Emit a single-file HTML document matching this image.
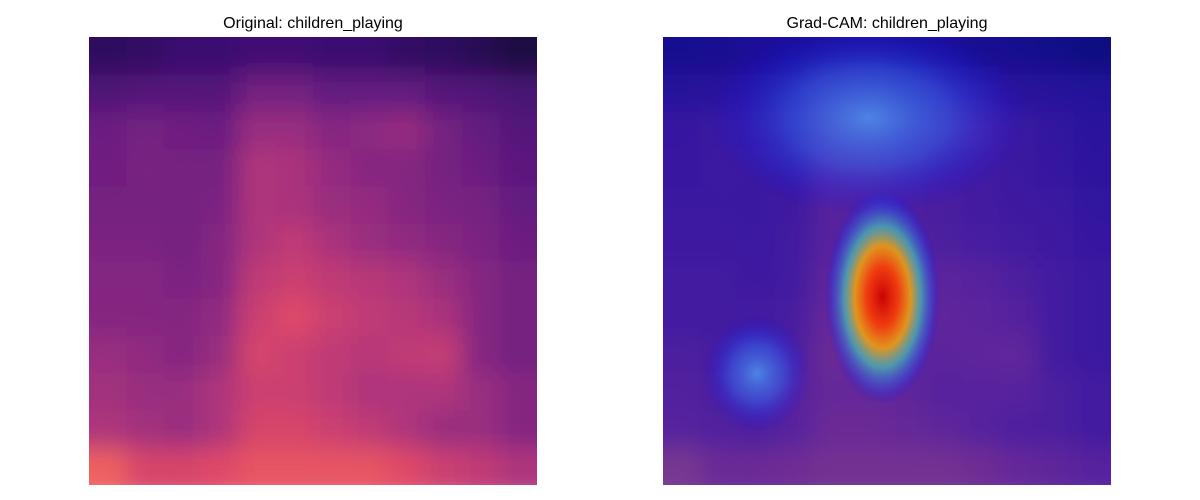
<!DOCTYPE html>
<html><head><meta charset="utf-8"><style>
html,body{margin:0;padding:0;background:#fff;width:1200px;height:500px;overflow:hidden}
svg{display:block}
text{font-family:"Liberation Sans","DejaVu Sans",sans-serif;font-size:16px;fill:#000}
</style></head><body>
<svg id="fig" width="1200" height="500" viewBox="0 0 1200 500">
<defs>
<filter id="blur" x="-10%" y="-10%" width="120%" height="120%"><feGaussianBlur stdDeviation="12"/></filter>
<clipPath id="clipL"><rect x="89" y="37" width="448" height="448"/></clipPath>
<clipPath id="clipR"><rect x="663" y="37" width="448" height="448"/></clipPath>
<radialGradient id="jetHot">
<stop offset="0" stop-color="#d00000" stop-opacity="0.95"/>
<stop offset="0.28" stop-color="#ff4000" stop-opacity="0.9"/>
<stop offset="0.48" stop-color="#ffb000" stop-opacity="0.8"/>
<stop offset="0.66" stop-color="#40e0c0" stop-opacity="0.6"/>
<stop offset="0.85" stop-color="#2060ff" stop-opacity="0.35"/>
<stop offset="1" stop-color="#0000ff" stop-opacity="0"/>
</radialGradient>
<radialGradient id="jetCool">
<stop offset="0" stop-color="#50b0ff" stop-opacity="0.7"/>
<stop offset="0.5" stop-color="#3070ff" stop-opacity="0.45"/>
<stop offset="1" stop-color="#0000ff" stop-opacity="0"/>
</radialGradient>
</defs>
<text x="313" y="28" text-anchor="middle">Original: children_playing</text>
<text x="887" y="28" text-anchor="middle">Grad-CAM: children_playing</text>
<g clip-path="url(#clipL)"><g id="specL" filter="url(#blur)"></g></g>
<g clip-path="url(#clipR)"><g id="specR" filter="url(#blur)"></g><rect x="663" y="37" width="448" height="448" fill="#0010c0" opacity="0.5"/><g id="cam"></g></g>
</svg>
<script>
// spectrogram intensity grid (rows top->bottom, 12x12), 0..1 magma
const specRows = [
[0.17,0.18,0.2,0.2,0.22,0.22,0.2,0.2,0.18,0.17,0.15,0.12],
[0.25,0.26,0.26,0.26,0.34,0.34,0.3,0.3,0.3,0.26,0.25,0.23],
[0.32,0.34,0.33,0.32,0.43,0.43,0.38,0.4,0.42,0.34,0.3,0.26],
[0.33,0.35,0.34,0.34,0.48,0.47,0.42,0.38,0.38,0.34,0.32,0.28],
[0.34,0.34,0.34,0.36,0.48,0.47,0.43,0.42,0.38,0.36,0.34,0.3],
[0.36,0.36,0.34,0.38,0.48,0.52,0.47,0.43,0.41,0.38,0.36,0.32],
[0.38,0.38,0.36,0.38,0.52,0.55,0.52,0.5,0.48,0.43,0.38,0.34],
[0.38,0.38,0.38,0.41,0.55,0.6,0.55,0.52,0.5,0.47,0.38,0.34],
[0.43,0.41,0.38,0.43,0.58,0.55,0.52,0.5,0.52,0.53,0.38,0.34],
[0.45,0.43,0.43,0.48,0.55,0.55,0.52,0.48,0.48,0.48,0.43,0.38],
[0.48,0.45,0.43,0.48,0.58,0.58,0.55,0.52,0.48,0.43,0.43,0.38],
[0.66,0.58,0.58,0.6,0.63,0.63,0.63,0.63,0.6,0.55,0.52,0.48]
];
// Grad-CAM blobs: centre (fraction of width/height), radii (fraction), kind
const camCx = [0.49, 0.21, 0.46];
const camCy = [0.58, 0.75, 0.18];
const camRx = [0.13, 0.12, 0.36];
const camRy = [0.24, 0.13, 0.22];
const camKind = ['jetHot','jetCool','jetCool'];

const magma=[[0,0,4],[20,14,54],[59,15,112],[100,26,128],[140,41,129],[183,55,121],[222,73,104],[247,112,92],[254,159,109],[254,207,146],[252,253,191]];
function cmap(v){v=Math.max(0,Math.min(1,v))*10;const i=Math.min(9,Math.floor(v)),t=v-i,a=magma[i],b=magma[i+1];
return 'rgb('+a.map((c,k)=>Math.round(c+(b[k]-c)*t)).join(',')+')';}
const NS='http://www.w3.org/2000/svg';
function drawSpec(gid,x0,y0,size){
 const g=document.getElementById(gid);const n=specRows.length,m=specRows[0].length;
 const ch=size/n,cw=size/m;
 specRows.forEach((row,r)=>row.forEach((v,c)=>{
  const rc=document.createElementNS(NS,'rect');
  let x=x0+c*cw,y=y0+r*ch,w=cw+1,h=ch+1;
  if(c===0){x-=30;w+=30;} if(c===m-1){w+=30;}
  if(r===0){y-=30;h+=30;} if(r===n-1){h+=14;}
  rc.setAttribute('x',x);rc.setAttribute('y',y);rc.setAttribute('width',w);rc.setAttribute('height',h);
  rc.setAttribute('fill',cmap(v));
  
  
  g.appendChild(rc);
 }));
}
drawSpec('specL',89,37,448);
drawSpec('specR',663,37,448);
const cg=document.getElementById('cam');
camCx.forEach((cx,i)=>{
 const e=document.createElementNS(NS,'ellipse');
 e.setAttribute('cx',663+cx*448);e.setAttribute('cy',37+camCy[i]*448);
 e.setAttribute('rx',camRx[i]*448);e.setAttribute('ry',camRy[i]*448);
 e.setAttribute('fill','url(#'+camKind[i]+')');
 
 
 cg.appendChild(e);
});
</script>
</body></html>
